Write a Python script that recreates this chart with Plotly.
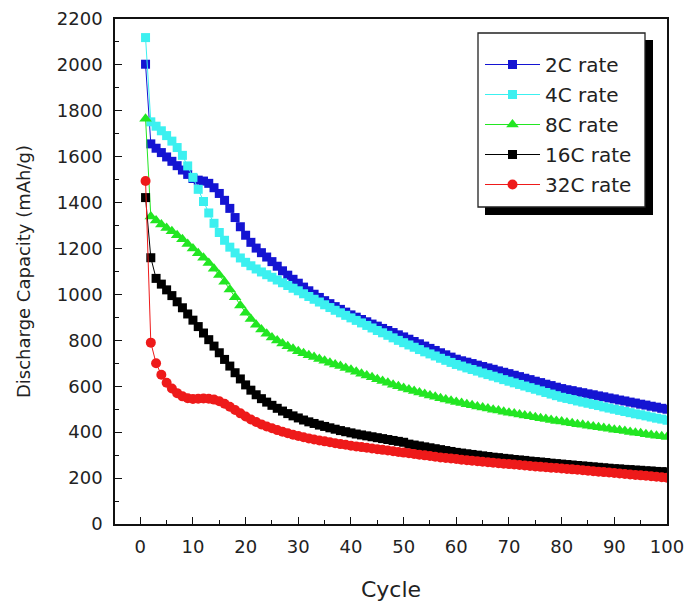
import plotly.graph_objects as go

cycles = list(range(1, 101))

rate_2c = [2003, 1656, 1637, 1618, 1599, 1580, 1561, 1542, 1523, 1505,
           1498, 1494, 1484, 1465, 1440, 1410, 1375, 1335, 1295, 1258,
           1227, 1202, 1182, 1163, 1143, 1123, 1103, 1084, 1066, 1049,
           1032, 1016, 1001, 987, 973, 960, 947, 935, 923, 911,
           901, 891, 881, 871, 862, 852, 843, 834, 824, 815,
           805, 795, 785, 775, 765, 756, 746, 737, 727, 718,
           711, 705, 699, 692, 686, 680, 674, 667, 661, 655,
           648, 642, 635, 629, 622, 616, 609, 603, 596, 590,
           585, 581, 576, 572, 567, 563, 558, 554, 549, 545,
           540, 536, 531, 527, 522, 518, 513, 509, 504, 500]

rate_4c = [2119, 1752, 1733, 1713, 1692, 1668, 1640, 1606, 1560, 1510,
           1458, 1405, 1355, 1310, 1270, 1236, 1206, 1181, 1159, 1140,
           1125, 1111, 1098, 1086, 1075, 1063, 1051, 1039, 1027, 1016,
           1003, 991, 979, 967, 955, 943, 931, 920, 909, 898,
           887, 876, 865, 854, 843, 833, 822, 811, 800, 790,
           780, 770, 760, 750, 741, 732, 722, 713, 704, 695,
           688, 680, 673, 666, 658, 651, 644, 637, 629, 622,
           615, 608, 601, 594, 587, 580, 573, 566, 559, 552,
           547, 542, 536, 531, 526, 521, 516, 510, 505, 500,
           495, 490, 485, 480, 476, 471, 466, 461, 457, 452]

rate_8c = [1765, 1340, 1322, 1305, 1290, 1275, 1258, 1240, 1220, 1200,
           1180, 1160, 1137, 1112, 1085, 1055, 1022, 988, 952, 920,
           893, 868, 847, 829, 813, 799, 786, 774, 763, 753,
           744, 735, 727, 719, 711, 703, 695, 688, 680, 672,
           663, 655, 647, 639, 631, 623, 615, 607, 600, 593,
           586, 579, 573, 566, 560, 554, 548, 542, 537, 532,
           527, 522, 517, 512, 507, 503, 498, 494, 489, 485,
           481, 477, 473, 469, 465, 461, 457, 453, 449, 446,
           442, 439, 435, 432, 428, 425, 421, 418, 415, 411,
           408, 405, 401, 398, 395, 391, 388, 385, 382, 379]

rate_16c = [1422, 1160, 1070, 1045, 1020, 995, 968, 942, 915, 888,
            860, 832, 803, 775, 746, 717, 688, 659, 632, 606,
            583, 563, 546, 531, 517, 504, 492, 481, 471, 462,
            453, 445, 438, 431, 425, 419, 413, 407, 402, 397,
            392, 388, 384, 380, 376, 372, 368, 364, 360, 356,
            348, 344, 340, 336, 332, 328, 324, 320, 316, 312,
            309, 306, 303, 300, 297, 294, 291, 289, 286, 284,
            281, 279, 277, 274, 272, 270, 268, 265, 263, 261,
            259, 257, 255, 253, 251, 249, 247, 245, 243, 241,
            240, 238, 237, 235, 234, 232, 231, 229, 228, 227]

rate_32c = [1494, 790, 700, 650, 615, 590, 570, 556, 548, 545,
            546, 547, 546, 542, 535, 524, 511, 497, 482, 468,
            455, 444, 434, 425, 417, 409, 402, 395, 389, 383,
            378, 373, 368, 364, 360, 356, 352, 348, 345, 341,
            338, 335, 332, 329, 326, 323, 320, 317, 314, 311,
            308, 305, 302, 299, 296, 293, 290, 288, 285, 283,
            280, 278, 276, 273, 271, 269, 267, 265, 263, 261,
            259, 257, 255, 253, 251, 249, 247, 245, 244, 242,
            240, 238, 236, 234, 232, 230, 228, 226, 224, 222,
            220, 218, 216, 214, 212, 210, 208, 206, 204, 202]

series = [
    ("2C rate", rate_2c, "#1414D2", "square", 9),
    ("4C rate", rate_4c, "#3CF0F0", "square", 9),
    ("8C rate", rate_8c, "#22E622", "triangle-up", 11),
    ("16C rate", rate_16c, "#000000", "square", 9),
    ("32C rate", rate_32c, "#EE1A1A", "circle", 10),
]

x_ticks = list(range(0, 101, 10))
y_ticks = list(range(0, 2201, 200))

fig = go.Figure()
for i, (name, vals, color, sym, size) in enumerate(series):
    fig.add_trace(go.Scatter(
        x=cycles, y=vals, name=name, mode="lines+markers",
        line=dict(color=color, width=1),
        marker=dict(symbol=sym, size=size, color=color, line=dict(width=0)),
        legendgroup=f"g{i}",
    ))

font_family = "DejaVu Sans, Liberation Sans, Arial, sans-serif"
axis_color = "#111111"

# plot area: x 115..667 px, y 19..524 px
def px(x):
    return (x - 115) / 552.0

def py(y):
    return (524 - y) / 505.0

fig.update_layout(
    width=687, height=610,
    margin=dict(l=115, r=20, t=19, b=86),
    paper_bgcolor="white", plot_bgcolor="white",
    font=dict(family=font_family, color="#222222", size=18),
    xaxis=dict(
        range=[-4.8, 100], tickvals=x_ticks, ticks="inside", ticklen=7,
        tickwidth=1.3, tickcolor=axis_color,
        minor=dict(dtick=5, ticks="inside", ticklen=4, tickwidth=1.2, tickcolor=axis_color, tick0=0),
        showline=True, linecolor=axis_color, linewidth=1.5, mirror=True,
        showgrid=False, zeroline=False, automargin=False,
        tickfont=dict(size=18), ticklabelstandoff=6,
        title=dict(text="Cycle", font=dict(size=22), standoff=25),
    ),
    yaxis=dict(
        range=[0, 2200], tickvals=y_ticks, ticks="inside", ticklen=7,
        tickwidth=1.3, tickcolor=axis_color,
        minor=dict(dtick=100, ticks="inside", ticklen=4, tickwidth=1.2, tickcolor=axis_color, tick0=0),
        showline=True, linecolor=axis_color, linewidth=1.5, mirror=True,
        showgrid=False, zeroline=False, automargin=False,
        tickfont=dict(size=18), ticklabelstandoff=7,
        title=dict(text="Discharge Capacity (mAh/g)", font=dict(size=18), standoff=22),
    ),
    legend=dict(
        x=px(480), y=py(45), xanchor="left", yanchor="top",
        bgcolor="rgba(0,0,0,0)", borderwidth=0,
        font=dict(size=20, color="#222222"),
        itemwidth=55, tracegroupgap=1,
    ),
    shapes=[
        dict(type="rect", xref="paper", yref="paper",
             x0=px(485), x1=px(653), y0=py(215), y1=py(40),
             fillcolor="black", line=dict(width=0), layer="above"),
        dict(type="rect", xref="paper", yref="paper",
             x0=px(478), x1=px(645), y0=py(207), y1=py(33),
             fillcolor="white", line=dict(width=1.3, color="#222222"), layer="above"),
    ],
)

fig.write_html("out.html")
